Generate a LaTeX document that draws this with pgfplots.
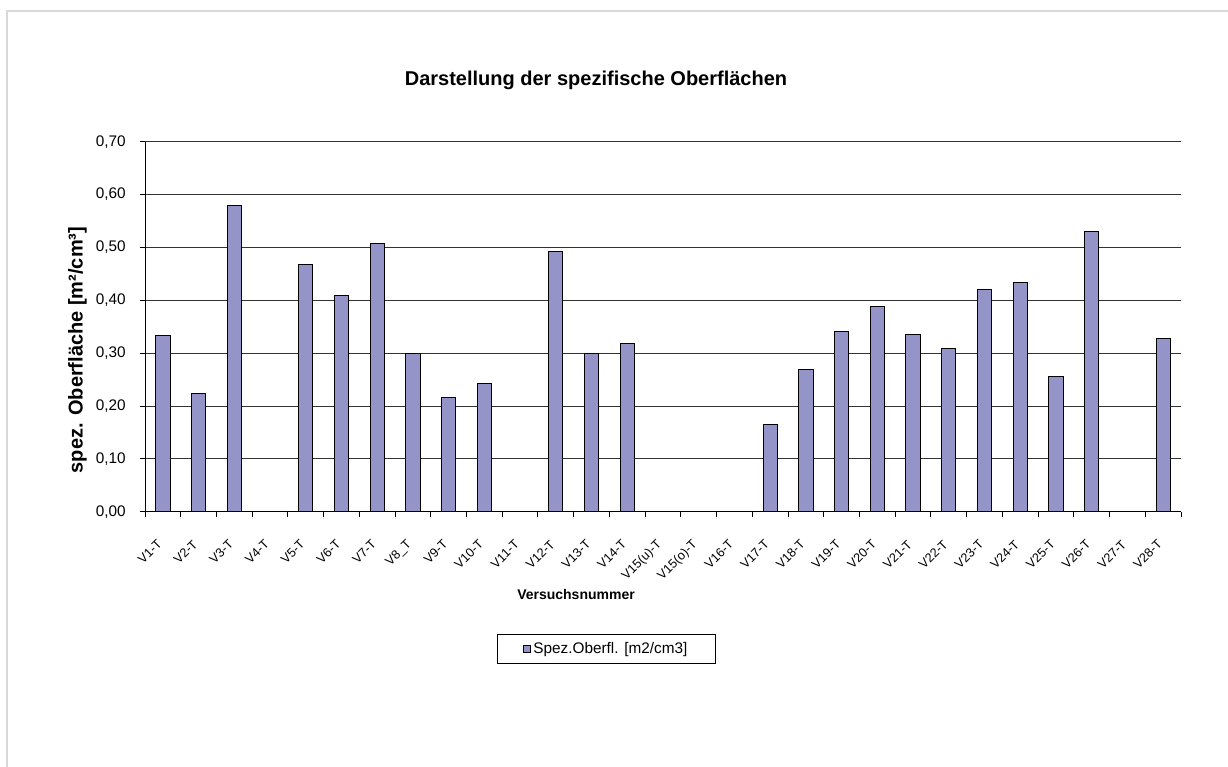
\documentclass[border=0pt]{standalone}
\usepackage{pgfplots}
\pgfplotsset{compat=1.18}
\usepackage{fontspec}
\setmainfont{Liberation Sans}
\definecolor{barfill}{RGB}{148,148,200}
\definecolor{framegray}{RGB}{217,217,217}
\begin{document}
\begin{tikzpicture}
\useasboundingbox (0,0) rectangle (921pt,-575.25pt);
\fill[white] (0,0) rectangle (921pt,-575.25pt);
\draw[framegray, line width=1.5pt] (5.25pt,-575.25pt) -- (5.25pt,-8.25pt) -- (921pt,-8.25pt);
\begin{axis}[
  at={(108.75pt,-383.8pt)}, anchor=south west,
  scale only axis, width=777pt, height=277.5pt,
  xmin=-0.5, xmax=28.5, ymin=0, ymax=0.7,
  axis x line*=bottom, axis y line*=left,
  axis line style={black, line width=0.75pt},
  tick align=outside, major tick length=4pt,
  tick style={black, line width=0.75pt},
  ytick={0,0.1,...,0.71},
  ymajorgrids, grid style={black!80, line width=0.75pt},
  yticklabel style={/pgf/number format/fixed, /pgf/number format/fixed zerofill, /pgf/number format/precision=2, /pgf/number format/use comma, /pgf/number format/assume math mode=true, font=\fontsize{11.5}{13}\selectfont, xshift=-7pt},
  xtick={-0.5,0.5,...,28.6}, xticklabels={},
  extra x ticks={0,1,...,28},
  extra x tick labels={V1-T,V2-T,V3-T,V4-T,V5-T,V6-T,V7-T,V8\_T,V9-T,V10-T,V11-T,V12-T,V13-T,V14-T,V15(u)-T,V15(o)-T,V16-T,V17-T,V18-T,V19-T,V20-T,V21-T,V22-T,V23-T,V24-T,V25-T,V26-T,V27-T,V28-T},
  extra x tick style={major tick length=0pt, xticklabel style={yshift=-20.5pt, xshift=0pt, rotate=45, anchor=east, font=\fontsize{9.5}{11}\selectfont}},
  legend style={at={(0.4455,-0.3705)}, anchor=center, draw=black, line width=0.6pt, font=\fontsize{11.5}{13}\selectfont, inner xsep=19pt, inner ysep=4pt},
  legend image code/.code={\draw[#1, line width=0.5pt] (0pt,-2.6pt) rectangle (5.25pt,2.6pt);},
  clip=false,
]
\addplot[ybar, bar width=0.4, fill=barfill, draw=black, line width=0.75pt] coordinates {
(0,0.333) (1,0.224) (2,0.580) (4,0.468) (5,0.409) (6,0.507) (7,0.300) (8,0.217) (9,0.243)
(11,0.492) (12,0.300) (13,0.318) (17,0.165) (18,0.270) (19,0.341) (20,0.389) (21,0.336)
(22,0.309) (23,0.421) (24,0.433) (25,0.255) (26,0.530) (28,0.327)
};
\addlegendentry{Spez.Oberfl. [m2/cm3]}
\end{axis}
\node[anchor=base, font=\fontsize{15}{18}\selectfont\bfseries] at (447pt,-63.75pt) {Darstellung der spezifische Oberflächen};
\node[anchor=base, font=\fontsize{10.5}{12}\selectfont\bfseries] at (432pt,-449.25pt) {Versuchsnummer};
\node[rotate=90, anchor=center, font=\fontsize{15}{18}\selectfont\bfseries] at (58pt,-262.5pt) {spez. Oberfläche [m²/cm³]};
\end{tikzpicture}
\end{document}
